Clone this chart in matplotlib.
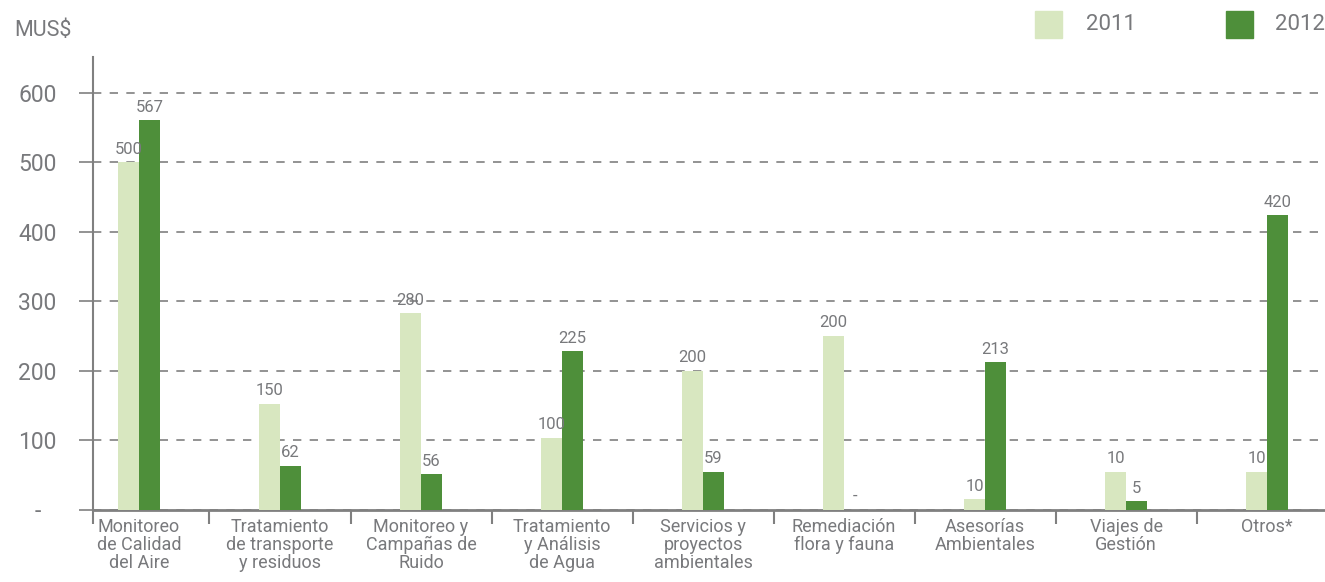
import numpy as np
import matplotlib
matplotlib.use('Agg')
import matplotlib.pyplot as plt
from matplotlib.patches import Rectangle
from matplotlib import font_manager

# pick a narrow face if one is installed
names = {f.name for f in font_manager.fontManager.ttflist}
for fam in ['Liberation Sans Narrow', 'Roboto', 'DejaVu Sans']:
    if fam in names:
        FONT = fam
        break
plt.rcParams['font.family'] = [FONT, 'DejaVu Sans']

categories = ['Monitoreo\nde Calidad\ndel Aire', 'Tratamiento\nde transporte\ny residuos',
              'Monitoreo y\nCampañas de\nRuido', 'Tratamiento\ny Análisis\nde Agua',
              'Servicios y\nproyectos\nambientales', 'Remediación\nflora y fauna',
              'Asesorías\nAmbientales', 'Viajes de\nGestión', 'Otros*']
# bar heights as drawn in the picture
bars_2011 = [500, 152, 283, 103, 200, 250, 15, 54, 54]
bars_2012 = [561, 63, 51, 228, 54, 0, 212, 12, 424]
# numbers printed above the bars
labels_2011 = ['500', '150', '280', '100', '200', '200', '10', '10', '10']
labels_2012 = ['567', '62', '56', '225', '59', '-', '213', '5', '420']
yticks = [0, 100, 200, 300, 400, 500, 600]
ytick_labels = ['-', '100', '200', '300', '400', '500', '600']

C_LIGHT = '#d8e7c0'
C_DARK = '#4e8f3a'
GREY = '#808080'
TXT = '#78797c'

W, H = 1325, 582
fig = plt.figure(figsize=(W/100, H/100), dpi=100)
ax = fig.add_axes([93/W, 72.5/H, 1 - 93/W, (509.5 - 57)/H])

x = np.arange(len(categories))
bw = 0.149
b1 = ax.bar(x - bw/2, bars_2011, bw, color=C_LIGHT, zorder=3)
b2 = ax.bar(x + bw/2, bars_2012, bw, color=C_DARK, zorder=3)

for rects, labs in ((b1, labels_2011), (b2, labels_2012)):
    for r, lab in zip(rects, labs):
        ax.annotate(lab, (r.get_x() + r.get_width()/2, r.get_height()),
                    xytext=(0, 4), textcoords='offset points',
                    ha='center', va='bottom', fontsize=12, color=TXT)

x_left = -0.326
ax.set_xlim(x_left, 8.41)
ax.set_ylim(0, 652)

ax.set_yticks(yticks)
ax.set_yticklabels(ytick_labels, ha='center')
ax.tick_params(axis='y', length=10, width=1.2, color=GREY, pad=30,
               labelsize=16.5, labelcolor=TXT)

ax.set_xticks([x_left] + [i + 0.5 for i in range(len(categories) - 1)])
ax.set_xticklabels([])
ax.set_xticks(x, minor=True)
ax.set_xticklabels(categories, minor=True, fontsize=13, color=TXT, linespacing=1.0)
ax.tick_params(axis='x', which='major', length=10, width=1.5, color=GREY)
ax.tick_params(axis='x', which='minor', length=0, pad=6)

ax.yaxis.grid(True, linestyle=(0, (5, 5)), color=GREY, lw=1.2)
ax.set_axisbelow(True)
for s in ['top', 'right']:
    ax.spines[s].set_visible(False)
ax.spines['left'].set_color(GREY)
ax.spines['left'].set_linewidth(1.5)
ax.spines['bottom'].set_color(GREY)
ax.spines['bottom'].set_linewidth(2)

fig.text(14/W, 1 - 31/H, 'MUS$', fontsize=15.5, color=TXT, va='center', ha='left')

# legend
for sx, tx, col, lab in ((1035, 1086, C_LIGHT, '2011'), (1226, 1275, C_DARK, '2012')):
    fig.add_artist(Rectangle((sx/W, 1 - 38/H), 27/W, 27/H, color=col,
                             transform=fig.transFigure))
    fig.text(tx/W, 1 - 25/H, lab, fontsize=16, color=TXT, va='center', ha='left')

fig.savefig('out.png', dpi=100)
